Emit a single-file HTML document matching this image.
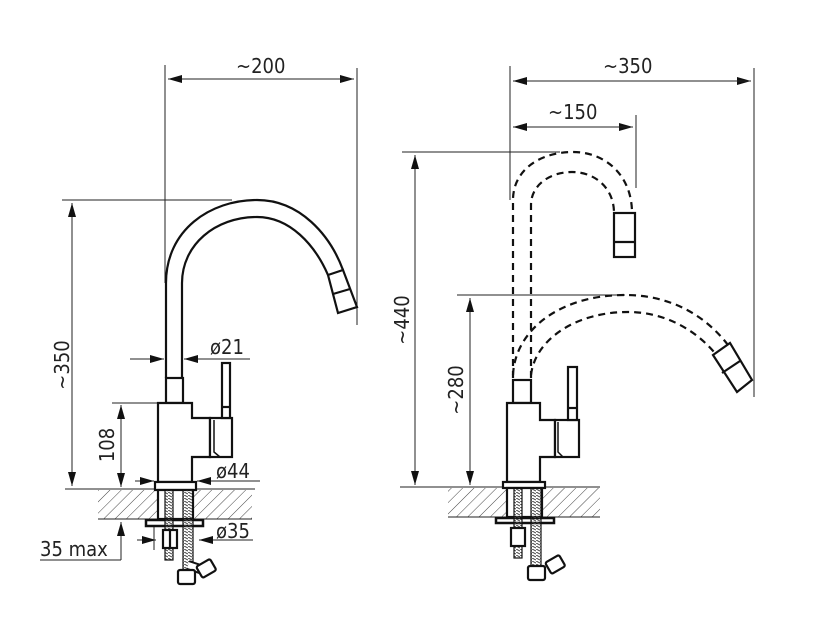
<!DOCTYPE html>
<html><head><meta charset="utf-8"><style>
html,body{margin:0;padding:0;background:#fff;}
svg{display:block;}
text{font-family:"DejaVu Sans Condensed","Liberation Sans",sans-serif;font-size:20px;fill:#222;}
</style></head><body>
<svg width="824" height="631" viewBox="0 0 824 631" xmlns="http://www.w3.org/2000/svg">
<defs>
<pattern id="h" width="8" height="8" patternUnits="userSpaceOnUse" patternTransform="rotate(45)">
<line x1="0" y1="0" x2="0" y2="8" stroke="#444" stroke-width="1"/>
</pattern>
<pattern id="th" width="4" height="3" patternUnits="userSpaceOnUse">
<line x1="0" y1="0" x2="4" y2="2" stroke="#444" stroke-width="1"/>
</pattern>
<marker id="a" viewBox="0 0 14 8" refX="14" refY="4" markerWidth="14" markerHeight="8" orient="auto" markerUnits="userSpaceOnUse">
<path d="M0,0 L14,4 L0,8 z" fill="#111"/>
</marker>
</defs>

<g stroke="#222" stroke-width="1" fill="none">
<line x1="165" y1="65" x2="165" y2="283"/>
<line x1="357" y1="68" x2="357" y2="325"/>
<line x1="168" y1="79" x2="354" y2="79" marker-end="url(#a)"/>
<line x1="354" y1="79" x2="168" y2="79" marker-end="url(#a)"/>
<line x1="62" y1="200" x2="232" y2="200"/>
<line x1="72" y1="300" x2="72" y2="203" marker-end="url(#a)"/>
<line x1="72" y1="300" x2="72" y2="486" marker-end="url(#a)"/>
<line x1="130" y1="359" x2="164" y2="359" marker-end="url(#a)"/>
<line x1="250" y1="359" x2="184" y2="359" marker-end="url(#a)"/>
<line x1="112" y1="403" x2="158" y2="403"/>
<line x1="121" y1="445" x2="121" y2="405" marker-end="url(#a)"/>
<line x1="121" y1="445" x2="121" y2="487" marker-end="url(#a)"/>
<line x1="135" y1="481" x2="154" y2="481" marker-end="url(#a)"/>
<line x1="260" y1="481" x2="197" y2="481" marker-end="url(#a)"/>
<line x1="65" y1="489" x2="255" y2="489"/>
<line x1="137" y1="540" x2="156" y2="540" marker-end="url(#a)"/>
<line x1="253" y1="540" x2="199" y2="540" marker-end="url(#a)"/>
<line x1="121" y1="560" x2="121" y2="522" marker-end="url(#a)"/>
<line x1="40" y1="560" x2="121" y2="560"/>
<line x1="154" y1="527" x2="154" y2="550"/>

<line x1="510" y1="66" x2="510" y2="200"/>
<line x1="754" y1="68" x2="754" y2="397"/>
<line x1="513" y1="81" x2="751" y2="81" marker-end="url(#a)"/>
<line x1="751" y1="81" x2="513" y2="81" marker-end="url(#a)"/>
<line x1="636" y1="115" x2="636" y2="188"/>
<line x1="513" y1="127" x2="633" y2="127" marker-end="url(#a)"/>
<line x1="633" y1="127" x2="513" y2="127" marker-end="url(#a)"/>
<line x1="402" y1="152" x2="560" y2="152"/>
<line x1="415" y1="320" x2="415" y2="155" marker-end="url(#a)"/>
<line x1="415" y1="320" x2="415" y2="485" marker-end="url(#a)"/>
<line x1="457" y1="295" x2="625" y2="295"/>
<line x1="470" y1="390" x2="470" y2="298" marker-end="url(#a)"/>
<line x1="470" y1="390" x2="470" y2="485" marker-end="url(#a)"/>
<line x1="400" y1="487" x2="600" y2="487"/>
</g>

<rect x="98" y="490" width="154" height="29" fill="url(#h)"/>
<line x1="98" y1="519" x2="252" y2="519" stroke="#222"/>
<rect x="448" y="488" width="152" height="29" fill="url(#h)"/>
<line x1="448" y1="517" x2="600" y2="517" stroke="#222"/>

<g stroke="#111" stroke-width="2.2" fill="#fff">
<path d="M166,378 L166,283 C166,230 210,200 257,200 C300,200 330,235 343,270" fill="none"/>
<path d="M182,378 L182,283 C182,245 215,217 257,217 C290,217 315,245 328,275" fill="none"/>
<path d="M328,275 L343,270 L357,307 L338,313 Z"/>
<line x1="333" y1="294" x2="350" y2="289"/>
<rect x="166" y="378" width="17" height="25"/>
<path d="M158,403 L192,403 L192,418 L210,418 L210,457 L192,457 L192,482 L158,482 Z"/>
<rect x="210" y="418" width="22" height="39"/>
<path d="M214,420 L214,452 L220,457" fill="none" stroke-width="1.5"/>
<rect x="222" y="363" width="8" height="55"/>
<line x1="222" y1="407" x2="230" y2="407"/>
<rect x="155" y="482" width="41" height="8"/>
<rect x="158" y="490" width="35" height="29" fill="#fff"/>
<rect x="146" y="520" width="57" height="6" stroke-width="2.5"/>
<rect x="165" y="490" width="8" height="70" fill="url(#th)" stroke-width="1.2"/>
<rect x="183" y="490" width="10" height="80" fill="url(#th)" stroke-width="1.2"/>
<path d="M188,565 L203,570" stroke-width="10" stroke="#111"/>
<path d="M188,565 L203,570" stroke-width="6" stroke="#fff"/>
<rect x="163" y="530" width="14" height="18"/>
<line x1="170" y1="530" x2="170" y2="548"/>
<rect x="178" y="570" width="17" height="14" rx="2"/>
<rect x="198" y="562" width="16" height="13" rx="2" transform="rotate(-30 206 568)"/>

<rect x="513" y="380" width="18" height="23"/>
<path d="M507,403 L540,403 L540,420 L555,420 L555,457 L540,457 L540,482 L507,482 Z"/>
<rect x="555" y="420" width="24" height="37"/>
<path d="M558,422 L558,452 L563,457" fill="none" stroke-width="1.5"/>
<rect x="568" y="367" width="9" height="53"/>
<line x1="568" y1="408" x2="577" y2="408"/>
<rect x="503" y="482" width="42" height="6"/>
<rect x="507" y="488" width="35" height="29" fill="#fff"/>
<rect x="496" y="518" width="58" height="5" stroke-width="2.5"/>
<rect x="514" y="488" width="8" height="70" fill="url(#th)" stroke-width="1.2"/>
<rect x="531" y="488" width="10" height="80" fill="url(#th)" stroke-width="1.2"/>
<rect x="511" y="528" width="14" height="18"/>
<rect x="528" y="566" width="17" height="14" rx="2"/>
<rect x="547" y="558" width="16" height="13" rx="2" transform="rotate(-30 555 564)"/>
<path d="M713,355 L730,343 L752,380 L737,392 Z"/>
<line x1="722" y1="373" x2="740" y2="361"/>
<rect x="614" y="213" width="21" height="44"/>
<line x1="614" y1="242" x2="635" y2="242"/>
</g>

<g stroke="#111" stroke-width="2.2" fill="none" stroke-dasharray="7,5">
<path d="M513,378 L513,200 C513,170 540,152 573,152 C605,152 632,175 632,213"/>
<path d="M531,378 L531,205 C531,185 550,172 572,172 C595,172 614,188 614,213"/>
<path d="M513,375 C515,330 560,295 625,295 C670,295 705,315 728,345"/>
<path d="M531,375 C535,340 575,312 628,312 C665,312 695,330 714,352"/>
</g>

<text x="236" y="73">~200</text>
<text x="210" y="354">ø21</text>
<text x="216" y="478">ø44</text>
<text x="216" y="538">ø35</text>
<text x="40" y="556">35 max</text>
<text transform="translate(69,365) rotate(-90)" text-anchor="middle">~350</text>
<text transform="translate(114,445) rotate(-90)" text-anchor="middle">108</text>
<text x="603" y="73">~350</text>
<text x="548" y="119">~150</text>
<text transform="translate(409,320) rotate(-90)" text-anchor="middle">~440</text>
<text transform="translate(463,390) rotate(-90)" text-anchor="middle">~280</text>
</svg>
</body></html>
